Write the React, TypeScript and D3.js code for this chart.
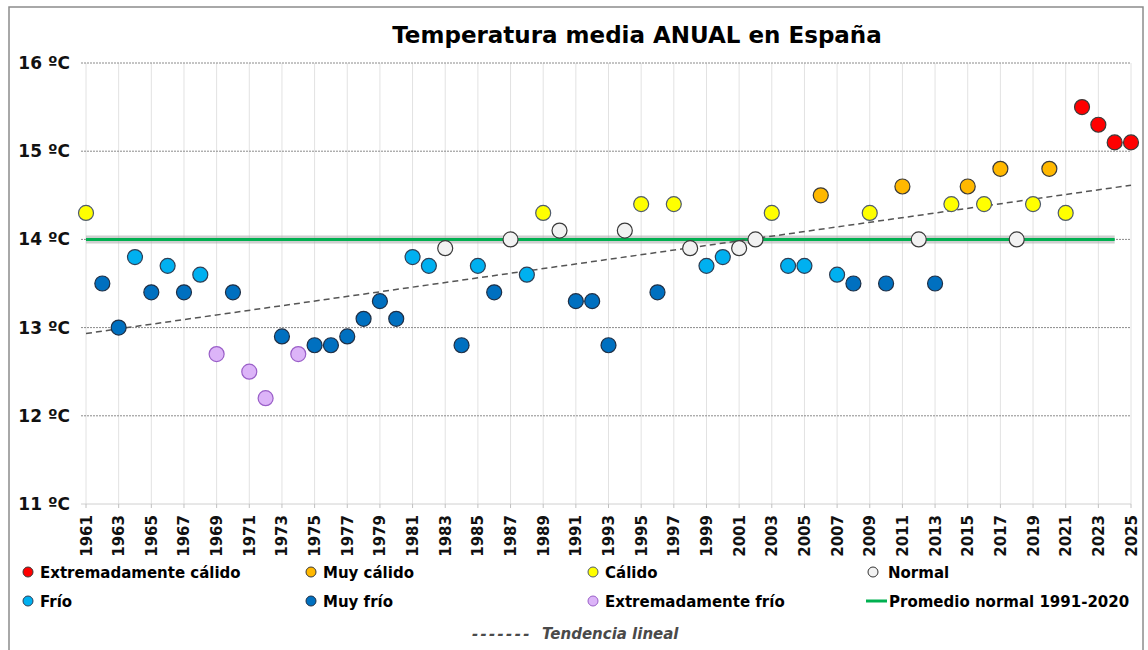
import React from "react";
import * as d3 from "d3";

// años y temperatura media anual (ºC)
const years = d3.range(1961, 2026);
const temps = [
  14.3, 13.5, 13.0, 13.8, 13.4, 13.7, 13.4, 13.6, 12.7, 13.4,
  12.5, 12.2, 12.9, 12.7, 12.8, 12.8, 12.9, 13.1, 13.3, 13.1,
  13.8, 13.7, 13.9, 12.8, 13.7, 13.4, 14.0, 13.6, 14.3, 14.1,
  13.3, 13.3, 12.8, 14.1, 14.4, 13.4, 14.4, 13.9, 13.7, 13.8,
  13.9, 14.0, 14.3, 13.7, 13.7, 14.5, 13.6, 13.5, 14.3, 13.5,
  14.6, 14.0, 13.5, 14.4, 14.6, 14.4, 14.8, 14.0, 14.4, 14.8,
  14.3, 15.5, 15.3, 15.1, 15.1,
];
// carácter de cada año: EC, MC, C, N, F, MF, EF
const classes = [
  "C", "MF", "MF", "F", "MF", "F", "MF", "F", "EF", "MF",
  "EF", "EF", "MF", "EF", "MF", "MF", "MF", "MF", "MF", "MF",
  "F", "F", "N", "MF", "F", "MF", "N", "F", "C", "N",
  "MF", "MF", "MF", "N", "C", "MF", "C", "N", "F", "F",
  "N", "N", "C", "F", "F", "MC", "F", "MF", "C", "MF",
  "MC", "N", "MF", "C", "MC", "C", "MC", "N", "C", "MC",
  "C", "EC", "EC", "EC", "EC",
];
const yTicks = [11, 12, 13, 14, 15, 16];
const xTicks = d3.range(1961, 2026, 2);
const normalValue = 14.0;

const legendRow1 = [
  { key: "EC", label: "Extremadamente cálido" },
  { key: "MC", label: "Muy cálido" },
  { key: "C", label: "Cálido" },
  { key: "N", label: "Normal" },
];
const legendRow2 = [
  { key: "F", label: "Frío" },
  { key: "MF", label: "Muy frío" },
  { key: "EF", label: "Extremadamente frío" },
];

const fills: Record<string, string> = {
  EC: "#ff0000",
  MC: "#ffb800",
  C: "#ffff00",
  N: "#f2f2f2",
  F: "#00b0f0",
  MF: "#0070c0",
  EF: "#dcb4f8",
};
const strokes: Record<string, string> = {
  EC: "#3a3a3a",
  MC: "#3a3a3a",
  C: "#4f5b6e",
  N: "#3a3a3a",
  F: "#2f3f55",
  MF: "#1f2f45",
  EF: "#9a5fc8",
};

const font = "'DejaVu Sans', Verdana, sans-serif";

export default function App() {
  const width = 1148;
  const height = 650;

  const x = d3.scaleLinear().domain([1961, 2025]).range([86, 1131]);
  const y = d3.scaleLinear().domain([11, 16]).range([504, 63]);

  // tendencia lineal (mínimos cuadrados)
  const mx = d3.mean(years)!;
  const my = d3.mean(temps)!;
  const slope =
    d3.sum(years, (yr, i) => (yr - mx) * (temps[i] - my)) /
    d3.sum(years, (yr) => (yr - mx) ** 2);
  const trend = (yr: number) => my + slope * (yr - mx);
  const trendLine = d3.line<number>().x((d) => x(d)).y((d) => y(trend(d)));

  const legendX = [28, 311, 593, 873];

  return (
    <svg
      width={width}
      height={height}
      style={{ position: "absolute", left: 0, top: 0, fontFamily: font }}
    >
      <rect x={0} y={0} width={width} height={height} fill="#fff" />
      <rect x={9} y={7} width={1134} height={660} fill="none" stroke="#8c8c8c" strokeWidth={1.5} />

      <text x={637} y={43} textAnchor="middle" fontSize={23} fontWeight="bold" fill="#000">
        Temperatura media ANUAL en España
      </text>

      {/* rejilla vertical */}
      {xTicks.map((t) => (
        <line key={"v" + t} x1={x(t)} x2={x(t)} y1={y(16)} y2={y(11)} stroke="#e2e2e2" strokeWidth={1} />
      ))}

      {/* rejilla horizontal */}
      {yTicks.map((t) => (
        <g key={"h" + t}>
          <line
            x1={81}
            x2={x(2025)}
            y1={y(t)}
            y2={y(t)}
            stroke={t === 11 ? "#d0d0d0" : "#8a8a8a"}
            strokeWidth={1}
            strokeDasharray={t === 11 ? undefined : "2,1"}
          />
          <text x={70} y={y(t) + 6} textAnchor="end" fontSize={17} fontWeight="bold" fill="#111">
            {t} ºC
          </text>
        </g>
      ))}

      {/* eje X */}
      {xTicks.map((t) => (
        <g key={"x" + t}>
          <line x1={x(t)} x2={x(t)} y1={y(11)} y2={y(11) + 4} stroke="#c0c0c0" />
          <text
            transform={`translate(${x(t) + 5.5},${y(11) + 11}) rotate(-90)`}
            textAnchor="end"
            fontSize={15}
            fontWeight="bold"
            fill="#111"
          >
            {t}
          </text>
        </g>
      ))}

      {/* promedio normal 1991-2020 */}
      <line x1={x(1961)} x2={x(2024)} y1={y(normalValue)} y2={y(normalValue)} stroke="#b0b0b0" strokeWidth={8} opacity={0.6} />
      <line x1={x(1961)} x2={x(2024)} y1={y(normalValue)} y2={y(normalValue)} stroke="#00b050" strokeWidth={3} />

      {/* tendencia */}
      <path d={trendLine([1961, 2025])!} fill="none" stroke="#555" strokeWidth={1.5} strokeDasharray="6,4" />

      {/* puntos */}
      {years.map((yr, i) => (
        <circle
          key={yr}
          cx={x(yr)}
          cy={y(temps[i])}
          r={7.5}
          fill={fills[classes[i]]}
          stroke={strokes[classes[i]]}
          strokeWidth={1.2}
        />
      ))}

      {/* leyenda */}
      {legendRow1.map((d, i) => (
        <g key={d.key} transform={`translate(${legendX[i]},572)`}>
          <circle r={5} fill={fills[d.key]} stroke={d.key === "N" ? "#333" : strokes[d.key]} strokeWidth={1} />
          <text x={d.key === "N" ? 15 : 12} y={6} fontSize={15} fontWeight="bold" fill="#000">
            {d.label}
          </text>
        </g>
      ))}
      {legendRow2.map((d, i) => (
        <g key={d.key} transform={`translate(${legendX[i]},601)`}>
          <circle r={5} fill={fills[d.key]} stroke={strokes[d.key]} strokeWidth={1} />
          <text x={12} y={6} fontSize={15} fontWeight="bold" fill="#000">
            {d.label}
          </text>
        </g>
      ))}
      <g transform="translate(866,601)">
        <line x1={0} x2={21} y1={0} y2={0} stroke="#00b050" strokeWidth={3} />
        <text x={23} y={6} fontSize={15} fontWeight="bold" fill="#000">
          Promedio normal 1991-2020
        </text>
      </g>
      <text x={472} y={639} fontSize={15} fontWeight="bold" fontStyle="italic" fill="#4a4a4a" letterSpacing={2.3}>
        -------
      </text>
      <text x={542} y={639} fontSize={15} fontWeight="bold" fontStyle="italic" fill="#4a4a4a">
        Tendencia lineal
      </text>
    </svg>
  );
}
